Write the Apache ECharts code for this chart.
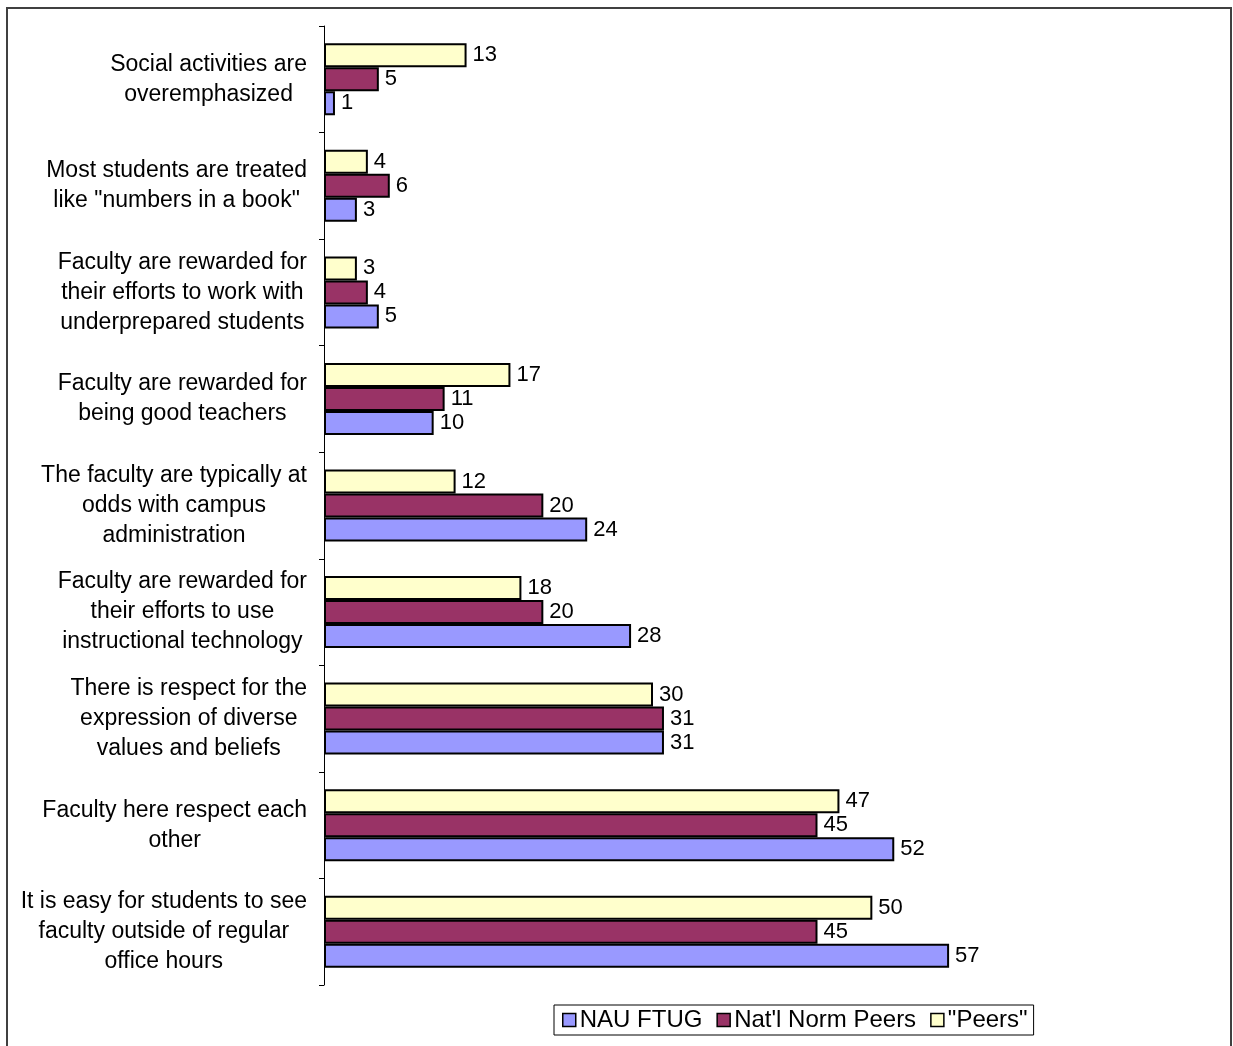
<!DOCTYPE html>
<html>
<head>
<meta charset="utf-8">
<script src="https://cdn.jsdelivr.net/npm/echarts@6/dist/echarts.min.js"></script>
<style>
html,body{margin:0;padding:0;background:#fff;}
#chart{width:1233px;height:1046px;}
</style>
</head>
<body>
<div id="chart"></div>
<script>
const categories = [
  "Social activities are\noveremphasized",
  "Most students are treated\nlike \"numbers in a book\"",
  "Faculty are rewarded for\ntheir efforts to work with\nunderprepared students",
  "Faculty are rewarded for\nbeing good teachers",
  "The faculty are typically at\nodds with campus\nadministration",
  "Faculty are rewarded for\ntheir efforts to use\ninstructional technology",
  "There is respect for the\nexpression of diverse\nvalues and beliefs",
  "Faculty here respect each\nother",
  "It is easy for students to see\nfaculty outside of regular\noffice hours"
];
const seriesNames = ["NAU FTUG", "Nat'l Norm Peers", "\"Peers\""];
const nauFtug = [1, 3, 5, 10, 24, 28, 31, 52, 57];
const natlNormPeers = [5, 6, 4, 11, 20, 20, 31, 45, 45];
const peers = [13, 4, 3, 17, 12, 18, 30, 47, 50];

const FONT = '"Liberation Sans", Arial, sans-serif';
const colors = ['#9999FF', '#993366', '#FFFFCC'];

function mkSeries(name, data, color) {
  return {
    name: name,
    type: 'bar',
    data: data,
    barWidth: 24,
    barGap: '0%',
    itemStyle: { color: color, borderColor: '#000', borderWidth: 2 },
    label: {
      show: true, position: 'right', distance: 6,
      color: '#000', fontSize: 22, fontFamily: FONT
    },
    emphasis: { disabled: true },
    animation: false
  };
}

const chart = echarts.init(document.getElementById('chart'), null, { renderer: 'canvas' });
chart.setOption({
  backgroundColor: '#fff',
  animation: false,
  textStyle: { fontFamily: FONT },
  grid: { left: 324, top: 26, bottom: 61, width: 658, containLabel: false },
  xAxis: {
    type: 'value', min: 0, max: 60, show: false
  },
  yAxis: {
    type: 'category',
    inverse: true,
    data: categories,
    axisLine: { show: true, lineStyle: { color: '#000', width: 1 } },
    axisTick: { show: true, length: 5, lineStyle: { color: '#000' } },
    axisLabel: {
      margin: 17,
      color: '#000',
      fontSize: 23,
      fontFamily: FONT,
      lineHeight: 30,
      formatter: function (v) {
        return v.split('\n').map(function (l) { return '{c|' + l + '}'; }).join('\n');
      },
      rich: { c: { align: 'center', fontSize: 23, lineHeight: 30, fontFamily: FONT, color: '#000' } }
    },
    splitLine: { show: false }
  },
  legend: {
    data: seriesNames,
    icon: 'rect',
    left: 554,
    top: 1005,
    padding: [3, 6, 3, 8],
    itemGap: 14,
    itemWidth: 13,
    itemHeight: 13,
    borderColor: '#000',
    borderWidth: 1,
    textStyle: { fontSize: 24, color: '#000', fontFamily: FONT, padding: [0, 0, 0, -1] },
    itemStyle: { borderColor: '#000', borderWidth: 1.5 },
    selectedMode: false
  },
  graphic: [{
    type: 'rect',
    shape: { x: 7, y: 8, width: 1224, height: 1100 },
    style: { fill: 'none', stroke: '#404040', lineWidth: 2 },
    silent: true
  }],
  series: [
    mkSeries(seriesNames[2], peers, colors[2]),
    mkSeries(seriesNames[1], natlNormPeers, colors[1]),
    mkSeries(seriesNames[0], nauFtug, colors[0])
  ]
});
</script>
</body>
</html>
